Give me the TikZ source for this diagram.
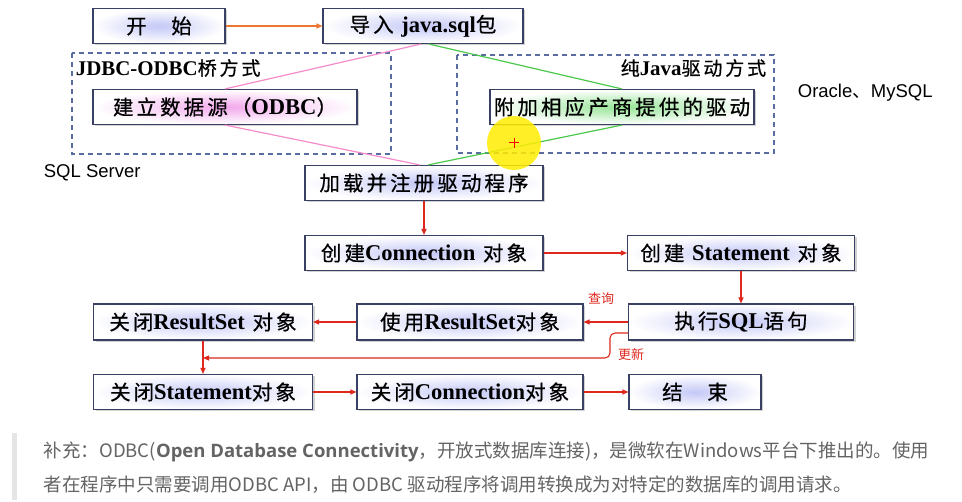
\documentclass[tikz,border=0pt]{standalone}
\usepackage{fontspec}
\setmainfont{Liberation Serif}[Scale=1.1]
\newfontfamily\cjk{Noto Sans CJK SC}[LetterSpace=15,FakeBold=0.6]
\newfontfamily\cjkplain{Noto Sans CJK SC}
\newfontfamily\arialfont{Liberation Sans}
\newfontfamily\opensans{Open Sans}
\usetikzlibrary{arrows.meta,shadows}
\definecolor{boxline}{RGB}{58,64,100}
\definecolor{groupblue}{RGB}{88,108,160}
\definecolor{glowblue}{RGB}{196,200,246}
\definecolor{glowpink}{RGB}{242,168,236}
\definecolor{glowgreen}{RGB}{150,228,150}
\definecolor{flowred}{RGB}{222,40,30}
\definecolor{startorange}{RGB}{234,120,50}
\definecolor{notegray}{RGB}{100,100,100}
\newcommand{\en}[1]{{\rmfamily\bfseries #1}}

\begin{document}
\begin{tikzpicture}[x=1pt,y=-1pt,
    box/.style={draw=boxline, line width=1.1pt, minimum height=35pt, inner sep=2pt,
      shading=radial, inner color=glowblue, outer color=white,
      drop shadow={opacity=0.35, shadow xshift=2pt, shadow yshift=-2pt},
      font=\cjk\fontsize{20.5}{23}\selectfont},
    flow/.style={draw=flowred, line width=1.1pt, -{Triangle[length=6pt,width=5pt]}},
    group/.style={draw=groupblue, line width=1.3pt, dash pattern=on 5pt off 4pt},
    tag/.style={text=flowred, font=\cjkplain\fontsize{13}{15}\selectfont}]
\useasboundingbox (0,0) rectangle (962,502);
\fill[white] (0,0) rectangle (962,502);
% driver loading
\node[box, minimum width=132pt] (start) at (159,26) {开\hspace{1.2em}始};
\node[box, minimum width=200pt] (import) at (423,26) {导入 \en{java.sql}包};
\draw[group] (72,53) rectangle (391,154);
\draw[group] (457,55) rectangle (774,153);
\node[anchor=west, font=\fontsize{19}{22}\selectfont] (jdbclabel) at (72,68) {\en{JDBC-ODBC}{\cjk 桥方式}};
\node[anchor=east, font=\fontsize{19}{22}\selectfont] (purelabel) at (770,68) {{\cjk 纯}\en{Java}{\cjk 驱动方式}};
\node[box, minimum width=264pt, inner color=glowpink] (odbc) at (225,107) {建立数据源（\en{ODBC}）};
\node[box, minimum width=264pt, inner color=glowgreen] (vendor) at (622,107) {附加相应产商提供的驱动};
\node[box, minimum width=238pt] (load) at (424,183) {加载并注册驱动程序};
\node[anchor=west, font=\arialfont\fontsize{18.5}{21}\selectfont] (dbright) at (794,93) {Oracle{\cjkplain 、}MySQL};
\node[anchor=west, font=\arialfont\fontsize{18.5}{21}\selectfont] (dbleft) at (40,173) {SQL Server};
\draw[startorange, line width=1.1pt, -{Triangle[length=6pt,width=5pt]}] (start) -- (import);
\draw[magenta!45, line width=1.2pt] ([xshift=-2pt]import.south) -- (odbc.north);
\draw[magenta!45, line width=1.2pt] (odbc.south) -- ([xshift=-4pt]load.north);
\draw[green!70!black!70, line width=1.2pt] ([xshift=6pt]import.south) -- (vendor.north);
\draw[green!70!black!70, line width=1.2pt] (vendor.south) -- ([xshift=4pt]load.north);
% cursor mark
\fill[yellow!95!orange, opacity=0.85] (514,143) circle (27);
\draw[red, line width=1pt] (509,143) -- (519,143) (514,138) -- (514,148);
% statements
\node[box, minimum width=238pt] (conn) at (424,253) {创建\en{Connection} 对象};
\node[box, minimum width=227pt] (stmt) at (741,253) {创建 \en{Statement} 对象};
\node[box, minimum width=225pt, minimum height=36pt] (exec) at (741,322) {执行\en{SQL}语句};
\node[box, minimum width=226pt, minimum height=36pt] (useRS) at (470,322) {使用\en{ResultSet}对象};
\node[box, minimum width=219pt, minimum height=36pt] (closeRS) at (203,322) {关闭\en{ResultSet} 对象};
\node[box, minimum width=219pt] (closeStmt) at (203,392) {关闭\en{Statement}对象};
\node[box, minimum width=226pt] (closeConn) at (470,392) {关闭\en{Connection}对象};
\node[box, minimum width=132pt] (finish) at (695,392) {结\hspace{1.2em}束};
\draw[flow] (load) -- (conn);
\draw[flow] (conn) -- (stmt);
\draw[flow] (stmt) -- (exec);
\draw[flow] (exec) -- (useRS);
\draw[flow] (useRS) -- (closeRS);
\coordinate (updturn) at (610,358);
\draw[flow, rounded corners=5pt] ([yshift=-11pt]exec.west) -| (updturn) -- (updturn -| closeRS.south);
\draw[flow] (closeRS) -- (closeStmt);
\draw[flow] (closeStmt) -- (closeConn);
\draw[flow] (closeConn) -- (finish);
\node[tag] (query) at (601,299) {查询};
\node[tag] (update) at (631,355) {更新};
% note
\fill[gray!20] (12,433) rectangle (17,500);
\node[anchor=west, text=notegray, font=\cjkplain\fontsize{18.5}{22}\selectfont] (noteA) at (40,452)
  {补充：ODBC({\opensans\bfseries Open Database Connectivity}，开放式数据库连接)，是微软在Windows平台下推出的。使用};
\node[anchor=west, text=notegray, font=\cjkplain\fontsize{18.5}{22}\selectfont] (noteB) at (40,485)
  {者在程序中只需要调用ODBC API，由 ODBC 驱动程序将调用转换成为对特定的数据库的调用请求。};
\end{tikzpicture}
\end{document}
